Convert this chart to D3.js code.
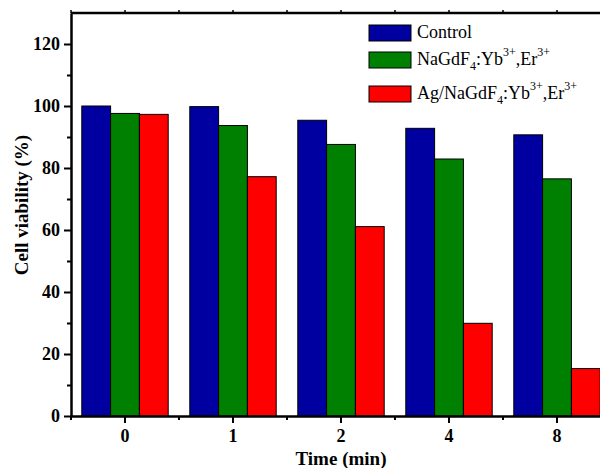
<!DOCTYPE html>
<html>
<head>
<meta charset="utf-8">
<script src="https://cdn.jsdelivr.net/npm/d3@7"></script>
<style>
  body { margin: 0; background: #fff; }
  svg { display: block; font-family: "Liberation Serif", "Times New Roman", serif; }
</style>
</head>
<body>
<svg width="600" height="468"></svg>
<script>
// data
var times = ['0', '1', '2', '4', '8'];
var seriesNames = ['control', 'nagdf', 'ag'];
var control = [100, 99.8, 95.4, 92.8, 90.7];
var nagdf = [97.6, 93.7, 87.6, 82.9, 76.5];
var ag = [97.3, 77.2, 61.1, 29.9, 15.3];
var yMajor = [0, 20, 40, 60, 80, 100, 120];
var yMinor = [10, 30, 50, 70, 90, 110];

var colors = { control: '#0000a0', nagdf: '#008000', ag: '#ff0000' };
var values = { control: control, nagdf: nagdf, ag: ag };

var svg = d3.select('svg');
// note: "top" is taken by window.top, so use plot* names
var plotLeft = 71, plotRight = 611, plotTop = 13, plotBottom = 416;

var x = d3.scaleBand().domain(times).range([plotLeft, plotRight]).paddingInner(0.2).paddingOuter(0.1);
var xs = d3.scaleBand().domain(seriesNames).range([0, x.bandwidth()]);
var y = d3.scaleLinear().domain([0, 130]).range([plotBottom, plotTop]);

// bars
var groups = svg.append('g').selectAll('g')
    .data(times)
    .enter().append('g')
    .attr('transform', function (d) { return 'translate(' + x(d) + ',0)'; });

groups.selectAll('rect')
    .data(function (d, i) {
        return seriesNames.map(function (s) { return { s: s, v: values[s][i] }; });
    })
    .enter().append('rect')
    .attr('x', function (d) { return xs(d.s); })
    .attr('y', function (d) { return y(d.v); })
    .attr('width', xs.bandwidth())
    .attr('height', function (d) { return plotBottom - y(d.v); })
    .attr('fill', function (d) { return colors[d.s]; })
    .attr('stroke', '#000')
    .attr('stroke-width', 1);

// y axis
svg.append('g')
    .attr('transform', 'translate(' + plotLeft + ',0)')
    .call(d3.axisLeft(y).tickValues(yMajor).tickSize(7).tickPadding(4).tickSizeOuter(0));
svg.append('g')
    .attr('transform', 'translate(' + plotLeft + ',0)')
    .call(d3.axisLeft(y).tickValues(yMinor).tickSize(4).tickFormat(''))
    .select('.domain').remove();

// x axis
svg.append('g')
    .attr('transform', 'translate(0,' + plotBottom + ')')
    .call(d3.axisBottom(x).tickSize(7).tickPadding(6).tickSizeOuter(0));
var step = x.step();
var xMinor = times.map(function (d) { return x(d) + x.bandwidth() / 2 - step / 2; });
xMinor.push(x(times[times.length - 1]) + x.bandwidth() / 2 + step / 2);
svg.append('g').selectAll('line')
    .data(xMinor)
    .enter().append('line')
    .attr('x1', function (d) { return d; })
    .attr('x2', function (d) { return d; })
    .attr('y1', plotBottom)
    .attr('y2', plotBottom + 4)
    .attr('stroke', '#000')
    .attr('stroke-width', 2);

// top frame line with small ticks
svg.append('line')
    .attr('x1', plotLeft).attr('x2', plotRight)
    .attr('y1', plotTop).attr('y2', plotTop)
    .attr('stroke', '#000').attr('stroke-width', 2.5);
svg.append('g').selectAll('line')
    .data(xMinor.concat(times.map(function (d) { return x(d) + x.bandwidth() / 2; })))
    .enter().append('line')
    .attr('x1', function (d) { return d; })
    .attr('x2', function (d) { return d; })
    .attr('y1', plotTop)
    .attr('y2', plotTop - 3)
    .attr('stroke', '#000')
    .attr('stroke-width', 1.5);

svg.selectAll('.domain').attr('stroke-width', 2.5).attr('stroke', '#000');
svg.selectAll('.tick line').attr('stroke-width', 2).attr('stroke', '#000');
svg.selectAll('.tick text')
    .attr('font-family', '"Liberation Serif", "Times New Roman", serif')
    .attr('font-size', 18)
    .attr('font-weight', 'bold')
    .attr('fill', '#000');

// axis titles
svg.append('text')
    .attr('x', (plotLeft + plotRight) / 2)
    .attr('y', 465)
    .attr('text-anchor', 'middle')
    .attr('font-size', 19)
    .attr('font-weight', 'bold')
    .text('Time (min)');

svg.append('text')
    .attr('transform', 'translate(28,205) rotate(-90)')
    .attr('text-anchor', 'middle')
    .attr('font-size', 19)
    .attr('font-weight', 'bold')
    .text('Cell viability (%)');

// legend
var legendRows = [
    { s: 'control', y: 25, parts: [['Control', '']] },
    { s: 'nagdf', y: 52, parts: [['NaGdF', ''], ['4', 'sub'], [':Yb', ''], ['3+', 'sup'], [',Er', ''], ['3+', 'sup']] },
    { s: 'ag', y: 86, parts: [['Ag/NaGdF', ''], ['4', 'sub'], [':Yb', ''], ['3+', 'sup'], [',Er', ''], ['3+', 'sup']] }
];

var legend = svg.append('g');
legendRows.forEach(function (row) {
    legend.append('rect')
        .attr('x', 369).attr('y', row.y)
        .attr('width', 42).attr('height', 16)
        .attr('fill', colors[row.s])
        .attr('stroke', '#000').attr('stroke-width', 1);
    var t = legend.append('text')
        .attr('x', 417)
        .attr('y', row.y + 13)
        .attr('font-size', 18);
    var prev = '';
    row.parts.forEach(function (p) {
        var ts = t.append('tspan').text(p[0]);
        var dy = 0;
        if (prev === 'sub') dy -= 5;
        if (prev === 'sup') dy += 9;
        if (p[1] === 'sub') dy += 5;
        if (p[1] === 'sup') dy -= 9;
        if (p[1]) ts.attr('font-size', 12);
        ts.attr('dy', dy);
        prev = p[1];
    });
});
</script>
</body>
</html>
